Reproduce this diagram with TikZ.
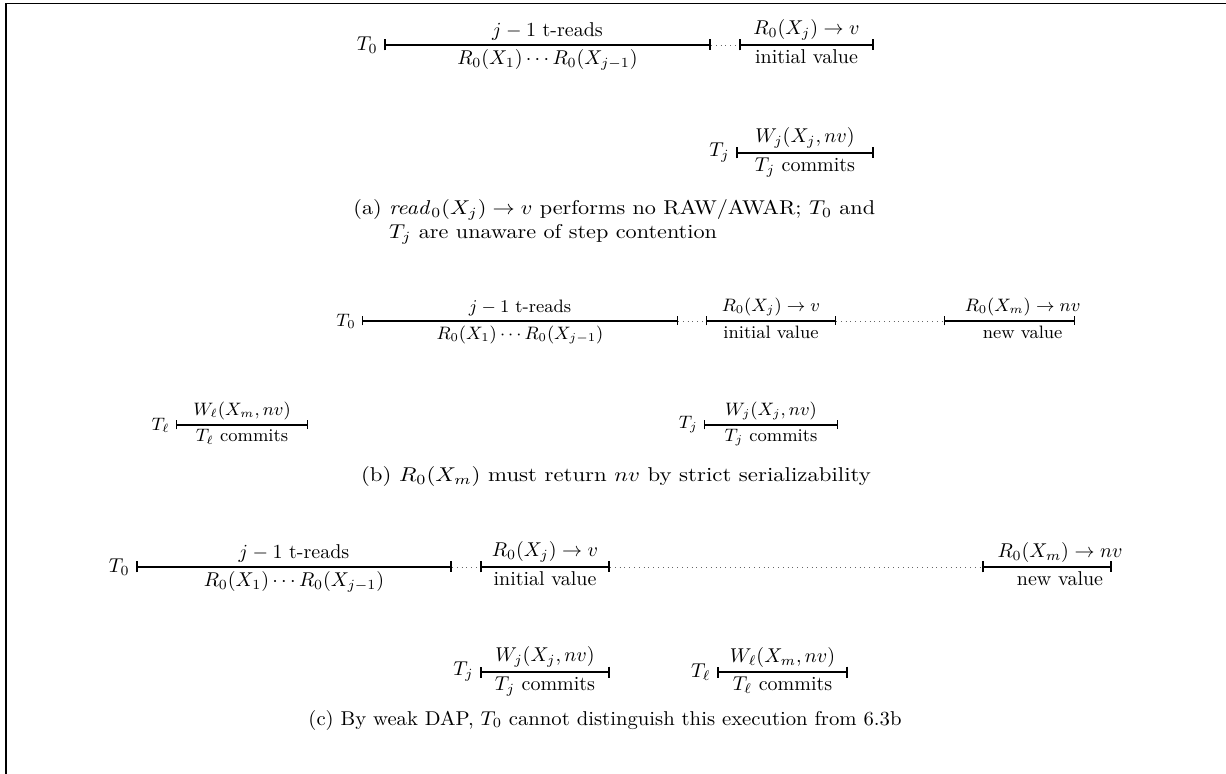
\documentclass[tikz,border=0pt]{standalone}
\usepackage{amsmath,amssymb}
\usepackage{graphicx}
\usepackage{tikz}
\usetikzlibrary{arrows.meta,positioning}

\begin{document}
\begin{tikzpicture}[
  x=0.5pt, y=-0.5pt,
  op/.style={line width=0.8pt, {Bar[width=5.5pt]}-{Bar[width=5.5pt]}},
  opsmall/.style={line width=0.7pt, {Bar[width=4.5pt]}-{Bar[width=4.5pt]}},
  gap/.style={dotted, thin, black!60},
  optop/.style={above, inner sep=2pt},
  opbot/.style={below, inner sep=2pt},
  txn/.style={anchor=east, inner sep=3pt},
  subcap/.style={inner sep=0pt}
]
\useasboundingbox (0,0) rectangle (1226,774);
\draw[line width=0.8pt] (6,774) -- (6,3.5) -- (1226,3.5);

% (a) no RAW/AWAR
\coordinate (a0) at (384,45);
\coordinate (a1) at (711,45);
\coordinate (a2) at (739,45);
\coordinate (a3) at (874,45);
\node[txn] (aT0) at (a0) {$T_0$};
\draw[op] (a0) -- node[optop] (a0up) {$j-1$ t-reads}
  node[opbot] (a0dn) {$R_0(X_1)\cdots R_0(X_{j-1})$} (a1);
\draw[gap] (a1) -- (a2);
\draw[op] (a2) -- node[optop] (a2up) {$R_0(X_j)\rightarrow v$}
  node[opbot] (a2dn) {initial value} (a3);

\coordinate (aj0) at (736,153);
\coordinate (aj1) at (874,153);
\node[txn] (aTj) at (aj0) {$T_j$};
\draw[op] (aj0) -- node[optop] (ajup) {$W_j(X_j,nv)$}
  node[opbot] (ajdn) {$T_j$ commits} (aj1);

\node[subcap, anchor=west] (capa) at (353,222)
  {\scalebox{1.11}[1]{\begin{tabular}{@{}l@{}}
   (a) $\mathit{read}_0(X_j)\rightarrow v$ performs no RAW/AWAR; $T_0$ and\\
   \hphantom{(a) }$T_j$ are unaware of step contention
   \end{tabular}}};

% (b) strict serializability
\begin{scope}[font=\small]
\coordinate (b0) at (362,321);
\coordinate (b1) at (678,321);
\coordinate (b2) at (706,321);
\coordinate (b3) at (836,321);
\coordinate (b4) at (944,321);
\coordinate (b5) at (1075,321);
\node[txn] (bT0) at (b0) {$T_0$};
\draw[opsmall] (b0) -- node[optop] (b0up) {$j-1$ t-reads}
  node[opbot] (b0dn) {$R_0(X_1)\cdots R_0(X_{j-1})$} (b1);
\draw[gap] (b1) -- (b2);
\draw[opsmall] (b2) -- node[optop] (b2up) {$R_0(X_j)\rightarrow v$}
  node[opbot] (b2dn) {initial value} (b3);
\draw[gap] (b3) -- (b4);
\draw[opsmall] (b4) -- node[optop, pos=0.6] (b4up) {$R_0(X_m)\rightarrow nv$}
  node[opbot, pos=0.6] (b4dn) {new value} (b5);

\coordinate (bl0) at (176,425);
\coordinate (bl1) at (308,425);
\node[txn] (bTl) at (bl0) {$T_\ell$};
\draw[opsmall] (bl0) -- node[optop] (blup) {$W_\ell(X_m,nv)$}
  node[opbot] (bldn) {$T_\ell$ commits} (bl1);

\coordinate (bj0) at (704,425);
\coordinate (bj1) at (838,425);
\node[txn] (bTj) at (bj0) {$T_j$};
\draw[opsmall] (bj0) -- node[optop] (bjup) {$W_j(X_j,nv)$}
  node[opbot] (bjdn) {$T_j$ commits} (bj1);
\end{scope}

\node[subcap] (capb) at (616,477)
  {\scalebox{1.14}[1]{(b) $R_0(X_m)$ must return $nv$ by strict serializability}};

% (c) weak DAP
\coordinate (c0) at (136,567);
\coordinate (c1) at (452,567);
\coordinate (c2) at (480,567);
\coordinate (c3) at (610,567);
\coordinate (c4) at (982,567);
\coordinate (c5) at (1112,567);
\node[txn] (cT0) at (c0) {$T_0$};
\draw[op] (c0) -- node[optop] (c0up) {$j-1$ t-reads}
  node[opbot] (c0dn) {$R_0(X_1)\cdots R_0(X_{j-1})$} (c1);
\draw[gap] (c1) -- (c2);
\draw[op] (c2) -- node[optop] (c2up) {$R_0(X_j)\rightarrow v$}
  node[opbot] (c2dn) {initial value} (c3);
\draw[gap] (c3) -- (c4);
\draw[op] (c4) -- node[optop, pos=0.6] (c4up) {$R_0(X_m)\rightarrow nv$}
  node[opbot, pos=0.6] (c4dn) {new value} (c5);

\coordinate (cj0) at (480,672);
\coordinate (cj1) at (610,672);
\node[txn] (cTj) at (cj0) {$T_j$};
\draw[op] (cj0) -- node[optop] (cjup) {$W_j(X_j,nv)$}
  node[opbot] (cjdn) {$T_j$ commits} (cj1);

\coordinate (cl0) at (717,672);
\coordinate (cl1) at (848,672);
\node[txn] (cTl) at (cl0) {$T_\ell$};
\draw[op] (cl0) -- node[optop] (clup) {$W_\ell(X_m,nv)$}
  node[opbot] (cldn) {$T_\ell$ commits} (cl1);

\node[subcap] (capc) at (605,720)
  {\scalebox{1.035}[1]{(c) By weak DAP, $T_0$ cannot distinguish this execution from 6.3b}};
\end{tikzpicture}
\end{document}
